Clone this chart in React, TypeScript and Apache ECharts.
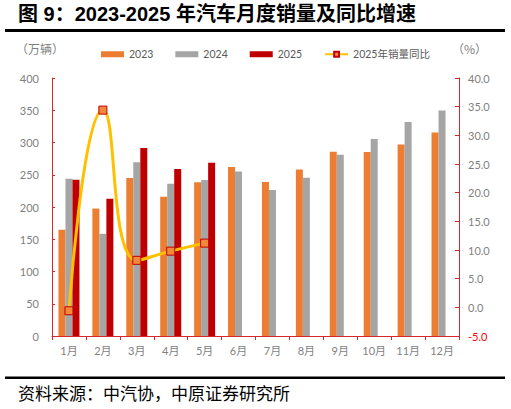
import React, { useEffect, useRef } from 'react';
import * as echarts from 'echarts';

const months = ['1月', '2月', '3月', '4月', '5月', '6月', '7月', '8月', '9月', '10月', '11月', '12月'];
const sales2023 = [164.9, 197.6, 245.1, 215.9, 238.2, 262.2, 238.7, 258.2, 285.8, 285.3, 297.0, 315.6];
const sales2024 = [243.9, 158.4, 269.4, 235.9, 241.7, 255.2, 226.2, 245.3, 280.9, 305.3, 331.6, 349.8];
const sales2025 = [242.3, 212.9, 291.5, 259.0, 268.6, null, null, null, null, null, null, null];
const yoy2025 = [-0.6, 34.4, 8.2, 9.8, 11.2, null, null, null, null, null, null, null];

const AXIS_RED = '#D6282B';
const LABEL_GRAY = '#7F7F7F';
const FONT = 'Lato, "Noto Sans CJK SC", sans-serif';

const App: React.FC = () => {
  const chartRef = useRef<HTMLDivElement>(null);

  useEffect(() => {
    document.body.style.margin = '0';
    if (!chartRef.current) return;
    const chart = echarts.init(chartRef.current, null, { renderer: 'svg' });

    const option: echarts.EChartsOption = {
      animation: false,
      backgroundColor: '#fff',
      textStyle: { fontFamily: FONT },
      grid: { left: 52, right: 52, top: 78, bottom: 73 },
      legend: {
        left: 96,
        top: 44,
        itemWidth: 23,
        itemHeight: 6,
        itemGap: 22,
        textStyle: { fontSize: 10.5, color: '#595959', fontFamily: FONT },
        data: [
          { name: '2023', icon: 'rect' },
          { name: '2024', icon: 'rect' },
          { name: '2025', icon: 'rect' },
          { name: '2025年销量同比' }
        ]
      },
      graphic: [
        {
          type: 'text',
          left: 18,
          top: 4,
          style: {
            text: '图 9：2023-2025 年汽车月度销量及同比增速',
            font: 'bold 20px "Liberation Sans", "Noto Sans CJK SC", sans-serif',
            fill: '#000'
          }
        },
        { type: 'rect', shape: { x: 5, y: 29, width: 500, height: 3 }, style: { fill: '#000' } },
        { type: 'rect', shape: { x: 5, y: 376.5, width: 500, height: 2.5 }, style: { fill: '#000' } },
        {
          type: 'text',
          left: 18,
          top: 384,
          style: {
            text: '资料来源：中汽协，中原证券研究所',
            font: '17px "Noto Sans CJK SC", sans-serif',
            fill: '#000'
          }
        },
        {
          type: 'text',
          left: 16,
          top: 42,
          style: { text: '（万辆）', font: '12px "Noto Sans CJK SC", sans-serif', fill: LABEL_GRAY }
        },
        {
          type: 'text',
          left: 452,
          top: 42,
          style: { text: '（%）', font: '12px "Noto Sans CJK SC", sans-serif', fill: LABEL_GRAY }
        }
      ],
      xAxis: {
        type: 'category',
        data: months,
        axisLine: { lineStyle: { color: AXIS_RED, width: 1 } },
        axisTick: { show: true, length: 4, lineStyle: { color: AXIS_RED } },
        axisLabel: { color: LABEL_GRAY, fontSize: 11, margin: 9, fontFamily: FONT }
      },
      yAxis: [
        {
          type: 'value',
          min: 0,
          max: 400,
          interval: 50,
          splitLine: { show: false },
          axisLine: { show: true, lineStyle: { color: AXIS_RED } },
          axisTick: { show: true, inside: true, length: 3, lineStyle: { color: AXIS_RED } },
          axisLabel: { color: LABEL_GRAY, fontSize: 11, margin: 13, fontFamily: FONT }
        },
        {
          type: 'value',
          min: -5,
          max: 40,
          interval: 5,
          position: 'right',
          splitLine: { show: false },
          axisLine: { show: true, lineStyle: { color: AXIS_RED } },
          axisTick: { show: true, inside: true, length: 4, lineStyle: { color: AXIS_RED } },
          axisLabel: {
            fontSize: 11,
            margin: 9,
            fontFamily: FONT,
            formatter: (v: number) => (v < 0 ? `{neg|${v.toFixed(1)}}` : v.toFixed(1)),
            color: LABEL_GRAY,
            rich: { neg: { color: '#FF0000', fontSize: 11, fontFamily: FONT } }
          }
        }
      ],
      series: [
        {
          name: '2023',
          type: 'bar',
          data: sales2023,
          barWidth: 7,
          barGap: '0%',
          itemStyle: { color: '#ED7D31' }
        },
        {
          name: '2024',
          type: 'bar',
          data: sales2024,
          barWidth: 7,
          barGap: '0%',
          itemStyle: { color: '#A5A5A5' }
        },
        {
          name: '2025',
          type: 'bar',
          data: sales2025,
          barWidth: 7,
          barGap: '0%',
          itemStyle: { color: '#C00000' }
        },
        {
          name: '2025年销量同比',
          type: 'line',
          yAxisIndex: 1,
          data: yoy2025,
          smooth: 0.5,
          symbol: 'rect',
          symbolSize: 8,
          lineStyle: { color: '#FFC000', width: 3 },
          itemStyle: { color: '#F08A3A', borderColor: '#C00000', borderWidth: 1 }
        }
      ]
    };

    chart.setOption(option);
    return () => {
      chart.dispose();
    };
  }, []);

  return <div ref={chartRef} style={{ width: 511, height: 409 }} />;
};

export default App;
